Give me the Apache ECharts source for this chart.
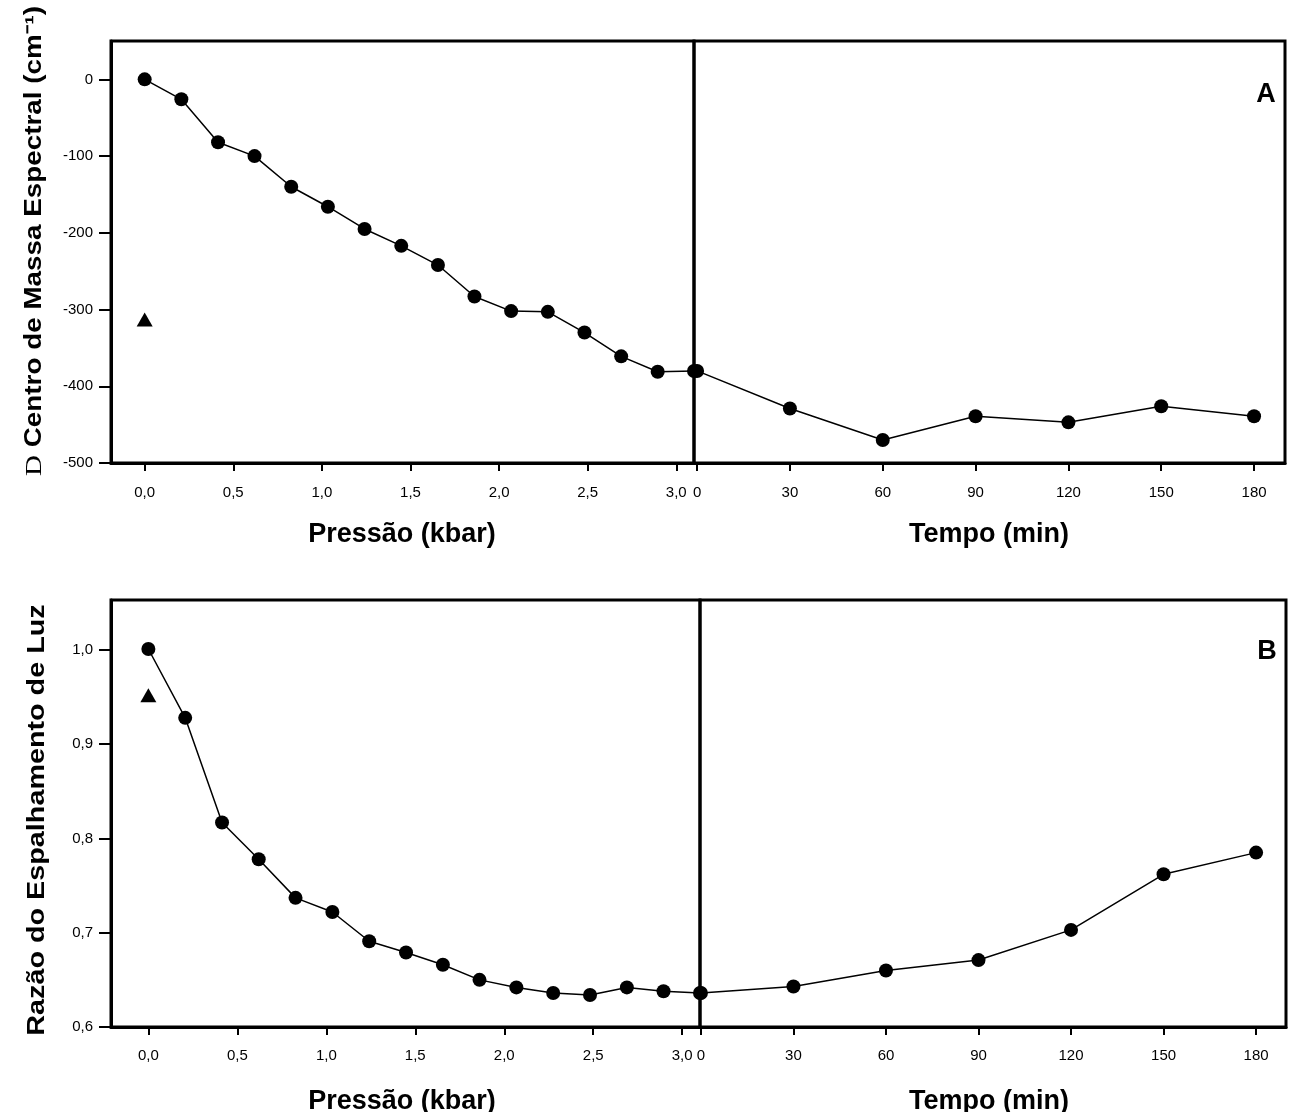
<!DOCTYPE html>
<html>
<head>
<meta charset="utf-8">
<script src="https://cdn.jsdelivr.net/npm/echarts@6/dist/echarts.min.js"></script>
<style>
  html, body { margin: 0; background: #fff; }
  #chart { width: 1289px; height: 1112px; }
</style>
</head>
<body>
<div id="chart"></div>
<script>
// pressão em kbar (passos de ~3000 psi)
const pressao = [0, 0.207, 0.414, 0.62, 0.827, 1.034, 1.241, 1.448, 1.655, 1.861, 2.068, 2.275, 2.482, 2.689, 2.895, 3.1]
const tempo = [0, 30, 60, 90, 120, 150, 180]

// painel A: centro de massa espectral (cm-1)
const centroPressao = [0, -26, -82, -100, -140, -166, -195, -217, -242, -283, -302, -303, -330, -361, -381, -380]
const centroTempo = [-380, -429, -470, -439, -447, -426, -439]
const centroControle = [[0, -313]]

// painel B: razão do espalhamento de luz
const razaoPressao = [1.001, 0.928, 0.817, 0.778, 0.737, 0.722, 0.691, 0.679, 0.666, 0.65, 0.642, 0.636, 0.634, 0.642, 0.638, 0.636]
const razaoTempo = [0.636, 0.643, 0.66, 0.671, 0.703, 0.762, 0.785]
const razaoControle = [[0, 0.952]]

// marcas dos eixos
const pressaoTicks = [0, 0.5, 1, 1.5, 2, 2.5, 3]
const tempoTicks = [0, 30, 60, 90, 120, 150, 180]
const centroTicks = [-500, -400, -300, -200, -100, 0]
const razaoTicks = [0.6, 0.7, 0.8, 0.9, 1.0]

const chart = echarts.init(document.getElementById('chart'))

const virgula = v => v.toFixed(1).replace('.', ',')
const narrow = "'Liberation Sans Narrow', 'Liberation Sans', Arial, sans-serif"
const sans = "'Liberation Sans', Arial, sans-serif"

const gridBox = (left, top, width, height) => ({
  left, top, width, height,
  show: true, borderColor: '#000', borderWidth: 3, backgroundColor: 'transparent'
})

const xAxisOf = (gridIndex, min, max, ticks, fmt, margin) => ({
  type: 'value', gridIndex, min, max,
  splitLine: { show: false },
  axisLine: { show: true, onZero: false, lineStyle: { color: '#000', width: 3 } },
  axisTick: { show: true, inside: false, length: 8, customValues: ticks, lineStyle: { color: '#000', width: 2 } },
  axisLabel: { customValues: ticks, formatter: fmt, margin, color: '#000', fontSize: 15, fontFamily: narrow }
})

const yAxisOf = (gridIndex, min, max, ticks, fmt, visible) => ({
  type: 'value', gridIndex, min, max, show: visible,
  splitLine: { show: false },
  axisLine: { show: true, onZero: false, lineStyle: { color: '#000', width: 3 } },
  axisTick: { show: true, length: 12, customValues: ticks, lineStyle: { color: '#000', width: 2 } },
  axisLabel: { customValues: ticks, formatter: fmt, margin: 18, color: '#000', fontSize: 15, fontFamily: sans }
})

const linha = (xi, yi, xs, ys) => ({
  type: 'line', xAxisIndex: xi, yAxisIndex: yi, clip: false,
  data: xs.map((x, i) => [x, ys[i]]),
  symbol: 'circle', symbolSize: 14,
  itemStyle: { color: '#000', opacity: 1 },
  lineStyle: { color: '#000', width: 1.5 },
  animation: false
})

const triangulo = (xi, yi, pts) => ({
  type: 'scatter', xAxisIndex: xi, yAxisIndex: yi, clip: false,
  data: pts, symbol: 'triangle', symbolSize: [16, 14],
  itemStyle: { color: '#000', opacity: 1 }, animation: false
})

const titulo = (text, x, y) => ({
  type: 'text', x, y,
  style: { text, font: 'bold 27px ' + sans, fill: '#000', align: 'center', verticalAlign: 'top' }
})

const tituloY = (text, x, y, scaleX, rich) => ({
  type: 'text', x, y, rotation: Math.PI / 2, scaleX,
  style: { text, font: 'bold 23px ' + sans, fill: '#000', align: 'center', verticalAlign: 'middle', rich }
})

const letra = (text, x, y) => ({
  type: 'text', x, y,
  style: { text, font: 'bold 27px ' + sans, fill: '#000', align: 'center', verticalAlign: 'middle' }
})

chart.setOption({
  backgroundColor: '#fff',
  animation: false,
  grid: [
    gridBox(111, 41, 583, 422),
    gridBox(694, 41, 591, 422),
    gridBox(111, 600, 589, 427),
    gridBox(700, 600, 586, 427)
  ],
  xAxis: [
    xAxisOf(0, -0.19, 3.1, pressaoTicks, virgula, 22),
    xAxisOf(1, -1, 190, tempoTicks, v => String(v), 22),
    xAxisOf(2, -0.21, 3.1, pressaoTicks, virgula, 21),
    xAxisOf(3, -0.3, 189.7, tempoTicks, v => String(v), 21)
  ],
  yAxis: [
    yAxisOf(0, -500, 50, centroTicks, v => String(v), true),
    yAxisOf(1, -500, 50, centroTicks, v => String(v), false),
    yAxisOf(2, 0.6, 1.053, razaoTicks, virgula, true),
    yAxisOf(3, 0.6, 1.053, razaoTicks, virgula, false)
  ],
  series: [
    linha(0, 0, pressao, centroPressao),
    linha(1, 1, tempo, centroTempo),
    triangulo(0, 0, centroControle),
    linha(2, 2, pressao, razaoPressao),
    linha(3, 3, tempo, razaoTempo),
    triangulo(2, 2, razaoControle)
  ],
  graphic: [
    titulo('Pressão (kbar)', 402, 521),
    titulo('Tempo (min)', 989, 521),
    titulo('Pressão (kbar)', 402, 1088),
    titulo('Tempo (min)', 989, 1088),
    tituloY('{d|D} Centro de Massa Espectral (cm\u207B\u00B9)', 35, 241, 1.21, {
      d: { font: '24px "Liberation Serif", serif', fill: '#000' }
    }),
    tituloY('Razão do Espalhamento de Luz', 38, 820, 1.25),
    letra('A', 1266, 95),
    letra('B', 1267, 652)
  ]
})
</script>
</body>
</html>
